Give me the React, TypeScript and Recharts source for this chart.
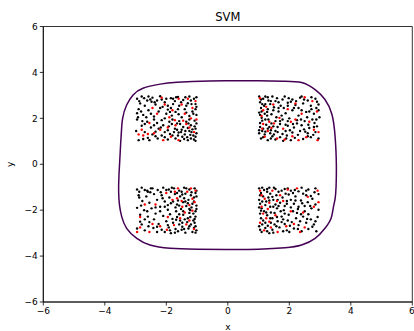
import React from 'react';
import { ScatterChart, Scatter, XAxis, YAxis, ReferenceArea, Label } from 'recharts';

const xTicks = [-6, -4, -2, 0, 2, 4, 6];
const yTicks = [-6, -4, -2, 0, 2, 4, 6];
const title = 'SVM';
const xLabel = 'x';
const yLabel = 'y';

// decision boundary (traced)
const contour: [number, number][] = [
  [0, 3.64], [1, 3.64], [1.8, 3.62], [2.4, 3.56], [2.84, 3.25], [3.16, 2.82], [3.38, 2.2], [3.47, 1.5],
  [3.5, 1.0], [3.52, 0.5], [3.53, 0], [3.53, -0.5], [3.52, -1.0], [3.49, -1.5], [3.43, -1.9], [3.36, -2.35],
  [3.16, -2.79], [2.84, -3.23], [2.4, -3.52], [1.86, -3.64], [1.0, -3.7], [0, -3.71], [-1.0, -3.7],
  [-1.88, -3.66], [-2.53, -3.52], [-2.96, -3.23], [-3.29, -2.79], [-3.45, -2.28], [-3.52, -1.8],
  [-3.55, -1.2], [-3.54, -0.5], [-3.52, 0], [-3.5, 0.5], [-3.48, 1.0], [-3.46, 1.42], [-3.42, 2.0],
  [-3.29, 2.58], [-3.08, 3.02], [-2.76, 3.31], [-2.2, 3.49], [-1.65, 3.57], [-0.6, 3.63], [0, 3.64],
];

const tlBlack: [number, number][] = [
  [-2.95,2.85],[-2.80,2.95],[-2.62,2.78],[-2.45,2.90],[-2.20,2.96],[-2.05,2.70],[-1.85,2.88],[-1.62,2.93],[-1.45,2.80],[-1.25,2.95],
  [-1.10,2.85],[-1.05,2.62],[-1.30,2.66],[-1.58,2.55],[-1.78,2.62],[-2.12,2.50],[-2.35,2.60],[-2.70,2.55],[-2.90,2.40],[-2.58,2.35],
  [-2.25,2.30],[-1.95,2.38],[-1.70,2.28],[-1.40,2.40],[-1.15,2.30],[-1.02,2.15],[-1.25,2.10],[-1.50,2.05],[-1.82,2.12],[-2.05,2.00],
  [-2.40,2.08],[-2.75,2.15],[-2.95,1.95],[-2.62,1.85],[-2.30,1.80],[-2.10,1.70],[-1.90,1.85],[-1.65,1.78],[-1.35,1.85],[-1.08,1.90],
  [-1.20,1.70],[-1.45,1.62],[-1.72,1.55],[-1.95,1.48],[-2.25,1.55],[-2.50,1.60],[-2.80,1.68],[-2.98,1.45],[-2.70,1.40],[-2.45,1.30],
  [-2.15,1.25],[-1.88,1.32],[-1.60,1.38],[-1.38,1.45],[-1.15,1.52],[-1.02,1.35],[-1.22,1.28],[-1.48,1.20],[-1.70,1.12],[-1.95,1.08],
  [-2.28,1.12],[-2.60,1.15],[-2.90,1.05],[-1.10,1.08],[-1.30,1.05],[-1.55,1.02],[-1.05,1.20],[-1.18,1.40],[-1.40,1.30],[-1.62,1.25],
  [-1.08,1.65],[-1.30,1.58],[-1.55,1.75],[-1.80,1.95],[-2.00,2.20],[-2.20,2.45],[-2.48,2.72],[-2.85,2.65],[-2.65,2.05],[-2.40,1.95],
  [-2.15,1.92],[-1.92,1.65],[-1.75,1.40],[-2.05,1.40],[-2.35,1.42],[-2.55,1.05],[-2.00,2.85],[-1.72,2.75],[-1.35,2.55],[-1.20,2.78],
  [-1.05,2.40],[-1.60,2.18],[-1.85,2.45],[-2.58,2.95],[-2.95,2.22],[-2.78,1.88],[-1.50,1.50],[-1.25,1.95],[-1.02,1.78],[-1.68,2.92],[-2.30,2.78],
  [-2.88,2.75],[-2.72,2.88],[-2.52,2.82],[-2.38,2.70],[-2.15,2.82],[-1.95,2.55],[-1.78,2.85],[-1.52,2.70],[-1.38,2.92],[-1.18,2.62],
  [-1.02,2.92],[-1.12,2.20],[-1.35,2.25],[-1.62,2.40],[-1.88,2.28],[-2.50,2.20],[-2.82,2.30],[-2.92,2.05],[-2.70,1.75],[-2.40,1.70],
  [-2.18,1.60],[-1.82,1.75],[-1.58,1.88],[-1.28,1.78],[-1.05,1.55],[-1.12,1.25],[-1.32,1.18],[-1.52,1.40],[-1.80,1.25],[-2.05,1.18],
  [-2.35,1.22],[-2.75,1.10],[-1.20,1.12],[-1.42,1.10],[-1.05,1.02],[-1.25,1.45],[-1.65,1.50],[-1.02,2.50],
];
const tlRed: [number, number][] = [
  [-2.90,1.30],[-2.75,1.25],[-2.60,1.32],[-2.40,1.35],[-2.20,1.50],[-1.95,1.60],[-1.70,1.70],[-1.45,1.90],[-1.20,2.00],[-1.15,2.45],
  [-1.50,2.60],[-1.80,2.35],[-2.05,2.60],[-2.45,2.45],[-1.30,2.85],[-1.60,2.85],[-1.05,2.75],[-1.35,1.75],[-1.60,1.05],[-1.85,1.20],
  [-2.10,1.05],[-2.55,1.80],[-1.10,1.40],[-1.90,2.05],[-2.30,2.20],
  [-2.80,1.50],[-1.40,2.20],[-1.25,1.60],[-2.15,2.90],[-1.72,1.92],[-1.02,1.95],
];
const trBlack: [number, number][] = [
  [1.02,2.95],[1.15,2.85],[1.30,2.92],[1.05,2.70],[1.22,2.62],[1.40,2.75],[1.60,2.88],[1.85,2.95],[2.10,2.82],[2.35,2.90],
  [2.60,2.78],[2.85,2.85],[2.95,2.60],[2.70,2.55],[2.45,2.65],[2.20,2.58],[1.95,2.68],[1.72,2.55],[1.50,2.48],[1.30,2.40],
  [1.08,2.45],[1.02,2.25],[1.20,2.20],[1.42,2.18],[1.65,2.30],[1.88,2.22],[2.10,2.35],[2.30,2.12],[2.55,2.28],[2.80,2.20],
  [2.98,2.05],[2.75,1.95],[2.50,1.88],[2.25,1.92],[2.00,2.00],[1.78,1.95],[1.55,1.88],[1.32,1.95],[1.10,2.02],[1.05,1.80],
  [1.25,1.72],[1.48,1.65],[1.70,1.75],[1.95,1.68],[2.15,1.60],[2.40,1.70],[2.65,1.58],[2.90,1.65],[2.85,1.40],[2.60,1.35],
  [2.35,1.45],[2.10,1.38],[1.88,1.45],[1.62,1.40],[1.40,1.48],[1.15,1.55],[1.02,1.35],[1.20,1.30],[1.45,1.22],[1.70,1.18],
  [1.92,1.25],[2.18,1.15],[2.45,1.10],[2.70,1.18],[2.95,1.12],[1.08,1.12],[1.30,1.05],[1.55,1.08],[1.80,1.02],[2.05,1.05],
  [1.12,1.90],[1.35,1.62],[1.58,2.05],[1.82,2.45],[2.05,2.72],[2.30,2.45],[2.58,2.05],[2.82,1.80],[1.18,2.55],[1.45,2.95],
  [1.28,2.12],[1.05,1.62],[1.38,1.35],[1.62,1.62],[2.25,1.78],[2.48,1.52],[2.72,2.40],[2.95,2.35],[1.75,2.12],[1.95,1.88],
  [1.22,1.42],[1.50,1.30],[1.10,2.30],[1.65,2.70],[2.40,2.95],[2.60,1.22],[2.88,1.95],[1.90,1.12],[1.32,2.78],
  [1.08,2.82],[1.22,2.95],[1.38,2.62],[1.55,2.75],[1.78,2.82],[1.98,2.88],[2.22,2.75],[2.48,2.82],[2.72,2.92],[2.90,2.72],
  [1.12,2.62],[1.28,2.28],[1.48,2.35],[1.65,2.45],[1.95,2.55],[2.15,2.45],[2.40,2.35],[2.65,2.30],[2.88,2.45],[1.05,2.15],
  [1.22,1.95],[1.42,1.78],[1.70,1.88],[1.88,1.72],[2.12,1.75],[2.38,1.95],[2.62,1.72],[2.80,1.62],[1.12,1.45],[1.30,1.55],
  [1.55,1.45],[1.78,1.32],[2.02,1.48],[2.28,1.28],[2.52,1.42],[2.78,1.28],[1.15,1.18],[1.40,1.12],[1.02,1.48],
];
const trRed: [number, number][] = [
  [1.05,2.88],[1.25,2.50],[1.10,2.10],[1.35,1.85],[1.15,1.75],[1.42,1.58],[1.20,1.20],[1.60,1.12],[1.85,1.08],[2.10,1.22],
  [2.30,1.05],[2.55,1.18],[2.92,1.05],[2.80,1.50],[2.65,1.85],[2.90,2.30],[2.75,2.75],[2.50,2.92],[2.20,2.65],[1.95,2.40],
  [1.68,2.02],[1.50,1.78],[1.80,1.55],[2.05,1.85],[2.40,2.20],
  [1.12,1.55],[1.30,1.45],[1.48,2.60],[2.20,1.95],[1.15,2.35],[2.95,1.40],
];
const blBlack: [number, number][] = [
  [-2.95,-1.10],[-2.80,-1.02],[-2.62,-1.15],[-2.45,-1.05],[-2.28,-1.12],[-2.10,-1.02],[-1.92,-1.10],[-1.75,-1.05],[-1.58,-1.15],[-1.42,-1.02],
  [-1.25,-1.10],[-1.08,-1.05],[-1.05,-1.25],[-1.20,-1.35],[-1.38,-1.28],[-1.55,-1.40],[-1.72,-1.30],[-1.90,-1.45],[-2.15,-1.35],[-2.40,-1.30],
  [-2.65,-1.40],[-2.90,-1.35],[-2.78,-1.60],[-2.55,-1.68],[-2.30,-1.55],[-2.05,-1.62],[-1.85,-1.70],[-1.62,-1.58],[-1.45,-1.65],[-1.28,-1.55],
  [-1.10,-1.62],[-1.02,-1.80],[-1.18,-1.88],[-1.35,-1.82],[-1.52,-1.95],[-1.70,-1.88],[-1.95,-1.98],[-2.20,-1.85],[-2.48,-1.92],[-2.72,-2.00],
  [-2.95,-1.90],[-2.85,-2.20],[-2.60,-2.28],[-2.35,-2.15],[-2.10,-2.25],[-1.88,-2.18],[-1.65,-2.30],[-1.45,-2.20],[-1.25,-2.12],[-1.05,-2.28],
  [-1.12,-2.45],[-1.32,-2.52],[-1.55,-2.45],[-1.78,-2.55],[-2.00,-2.48],[-2.25,-2.60],[-2.55,-2.52],[-2.80,-2.62],[-2.95,-2.80],[-2.70,-2.88],
  [-2.42,-2.78],[-2.15,-2.85],[-1.92,-2.75],[-1.70,-2.82],[-1.48,-2.72],[-1.28,-2.80],[-1.05,-2.70],[-1.15,-2.95],[-1.38,-2.98],[-1.62,-2.92],
  [-1.85,-3.00],[-2.30,-2.95],[-1.10,-1.45],[-1.30,-1.70],[-1.50,-1.20],[-1.68,-2.05],[-1.22,-2.30],[-1.40,-2.40],[-1.05,-2.05],[-1.58,-2.62],
  [-1.20,-2.62],[-1.02,-2.88],[-1.35,-1.05],[-1.65,-1.75],[-1.85,-1.20],[-2.05,-1.85],[-2.60,-1.20],[-2.88,-1.45],[-2.40,-2.40],[-2.70,-2.40],
  [-1.80,-2.38],[-1.95,-2.65],[-2.20,-2.05],[-1.50,-2.85],[-1.12,-2.15],[-1.42,-1.48],[-2.50,-1.05],[-1.25,-1.95],[-1.08,-2.55],
  [-2.88,-1.20],[-2.70,-1.12],[-2.52,-1.22],[-2.18,-1.22],[-2.00,-1.12],[-1.82,-1.02],[-1.65,-1.25],[-1.48,-1.32],[-1.18,-1.22],[-1.02,-1.40],
  [-1.15,-1.72],[-1.38,-1.62],[-1.58,-1.80],[-1.78,-1.62],[-1.02,-1.95],[-1.22,-2.00],[-1.45,-2.05],[-1.58,-2.18],[-1.30,-2.35],[-1.08,-2.38],
  [-1.48,-2.55],[-1.68,-2.42],[-1.25,-2.70],[-1.42,-2.82],[-1.10,-2.78],[-1.72,-2.98],[-1.88,-2.88],[-2.05,-2.95],[-2.30,-2.72],[-2.58,-2.70],
  [-2.85,-2.50],[-2.62,-2.05],[-2.35,-1.88],[-2.82,-1.80],[-2.12,-1.48],[-1.95,-1.78],[-1.05,-2.98],[-1.02,-1.15],
];
const blRed: [number, number][] = [
  [-2.95,-2.95],[-2.85,-2.75],[-2.55,-2.95],[-2.20,-2.70],[-1.98,-2.85],[-1.75,-2.65],[-1.55,-2.35],[-1.40,-2.10],[-1.25,-1.78],[-1.15,-1.50],
  [-1.05,-1.15],[-1.32,-1.20],[-1.62,-1.05],[-1.80,-1.55],[-1.95,-2.30],[-2.35,-1.75],[-2.70,-1.75],[-1.15,-2.02],[-1.35,-2.62],[-1.10,-2.82],
  [-1.65,-1.48],[-1.48,-1.85],[-2.45,-2.60],[-2.00,-1.25],
  [-1.08,-1.65],[-1.25,-2.45],[-1.72,-1.20],[-2.85,-2.30],[-1.50,-1.60],[-1.20,-1.05],
];
const brBlack: [number, number][] = [
  [1.02,-1.05],[1.18,-1.12],[1.35,-1.02],[1.55,-1.08],[1.75,-1.15],[1.95,-1.05],[2.18,-1.12],[2.40,-1.02],[2.62,-1.10],[2.85,-1.05],
  [2.95,-1.30],[2.70,-1.38],[2.45,-1.28],[2.20,-1.40],[1.98,-1.32],[1.78,-1.45],[1.58,-1.35],[1.38,-1.28],[1.15,-1.40],[1.02,-1.55],
  [1.25,-1.62],[1.48,-1.55],[1.70,-1.68],[1.92,-1.60],[2.15,-1.72],[2.38,-1.58],[2.60,-1.65],[2.85,-1.75],[2.95,-1.98],[2.72,-1.92],
  [2.50,-2.05],[2.28,-1.95],[2.05,-1.88],[1.82,-2.00],[1.60,-1.92],[1.38,-1.85],[1.10,-1.92],[1.05,-2.15],[1.28,-2.22],[1.52,-2.12],
  [1.75,-2.28],[1.98,-2.20],[2.22,-2.35],[2.45,-2.28],[2.70,-2.40],[2.92,-2.30],[2.80,-2.62],[2.55,-2.55],[2.30,-2.65],[2.08,-2.52],
  [1.85,-2.60],[1.62,-2.48],[1.40,-2.55],[1.15,-2.45],[1.02,-2.70],[1.22,-2.78],[1.45,-2.85],[1.68,-2.75],[1.92,-2.88],[2.15,-2.80],
  [2.40,-2.92],[2.62,-2.82],[2.88,-2.92],[1.10,-2.95],[1.35,-3.00],[1.08,-1.25],[1.22,-1.78],[1.32,-1.45],[1.05,-1.72],[1.18,-2.05],
  [1.45,-2.35],[1.30,-2.68],[1.55,-1.75],[1.65,-1.20],[1.88,-1.28],[2.05,-1.55],[1.72,-2.05],[1.95,-2.45],[2.25,-2.12],[2.50,-1.82],
  [2.75,-1.50],[2.35,-2.48],[2.62,-2.18],[1.12,-2.62],[1.40,-2.10],[1.58,-2.70],[1.85,-1.82],[2.12,-1.25],[1.02,-1.88],[1.28,-1.20],
  [2.00,-2.95],[1.50,-1.02],[2.30,-1.85],[2.55,-1.15],[1.80,-2.40],
  [1.05,-1.35],[1.12,-1.02],[1.28,-1.08],[1.45,-1.42],[1.62,-1.55],[1.85,-1.08],[2.05,-1.15],[2.30,-1.18],[2.55,-1.35],[2.82,-1.22],
  [1.12,-1.62],[1.35,-1.58],[1.48,-1.85],[1.65,-1.82],[1.92,-1.72],[2.20,-1.58],[2.42,-1.70],[2.68,-1.82],[1.08,-2.02],[1.25,-2.10],
  [1.38,-2.35],[1.60,-2.30],[1.85,-2.15],[2.12,-2.05],[2.38,-2.18],[2.58,-2.38],[2.85,-2.48],[1.08,-2.35],[1.22,-2.55],[1.52,-2.62],
  [1.75,-2.52],[2.02,-2.68],[2.28,-2.82],[2.75,-2.72],[1.05,-2.85],[1.28,-2.92],[1.48,-2.98],[1.80,-2.92],
];
const brRed: [number, number][] = [
  [1.05,-1.15],[1.20,-1.50],[1.10,-1.85],[1.35,-1.68],[1.25,-2.35],[1.05,-2.55],[1.18,-2.88],[1.40,-2.75],[1.62,-2.95],[1.55,-2.22],
  [1.80,-1.60],[1.95,-1.10],[2.25,-1.05],[2.60,-1.42],[2.92,-1.15],[2.80,-1.85],[2.45,-2.10],[2.15,-2.60],[1.90,-2.70],[2.50,-2.75],
  [1.70,-1.35],[1.45,-1.15],[1.30,-1.95],[2.05,-2.05],
  [1.10,-1.35],[1.15,-2.15],[1.35,-2.50],[2.95,-1.65],[2.35,-2.95],[1.60,-1.60],
];

const toPts = (arr: [number, number][]) => arr.map(([x, y]) => ({ x, y }));
const blackPts = toPts([...tlBlack, ...trBlack, ...blBlack, ...brBlack]);
const redPts = toPts([...tlRed, ...trRed, ...blRed, ...brRed]);
const contourPts = toPts(contour);

const FONT = 'DejaVu Sans, sans-serif';
const fmt = (v: number) => String(v).replace('-', '\u2212');

const dot = (color: string) => (p: any) => <circle cx={p.cx} cy={p.cy} r={1.2} fill={color} />;

export default function App() {
  return (
    <div style={{ position: 'absolute', left: 0, top: 0, width: 414, height: 331, background: '#fff' }}>
      <ScatterChart width={414} height={331} margin={{ top: 26.5, right: 1.7, bottom: 0, left: 0 }}>
        <XAxis
          type="number"
          dataKey="x"
          domain={[-6, 6]}
          ticks={xTicks}
          allowDataOverflow
          height={29}
          tickSize={3.5}
          tickMargin={2}
          tickFormatter={fmt}
          stroke="#000"
          tick={{ fontSize: 9, fill: '#000', fontFamily: FONT }}
          axisLine={{ stroke: '#000', strokeWidth: 0.8 }}
          tickLine={{ stroke: '#000', strokeWidth: 0.8 }}
        >
          <Label
            content={() => (
              <text x={227.8} y={329.5} textAnchor="middle" fontSize={9} fontFamily={FONT} fill="#000">{xLabel}</text>
            )}
          />
        </XAxis>
        <YAxis
          type="number"
          dataKey="y"
          domain={[-6, 6]}
          ticks={yTicks}
          allowDataOverflow
          width={43.3}
          tickSize={3.5}
          tickMargin={2}
          tickFormatter={fmt}
          stroke="#000"
          tick={{ fontSize: 9, fill: '#000', fontFamily: FONT }}
          axisLine={{ stroke: '#000', strokeWidth: 0.8 }}
          tickLine={{ stroke: '#000', strokeWidth: 0.8 }}
        >
          <Label
            content={() => (
              <text x={13} y={164.3} transform="rotate(-90 13 164.3)" textAnchor="middle" fontSize={9} fontFamily={FONT} fill="#000">{yLabel}</text>
            )}
          />
        </YAxis>
        <ReferenceArea
          x1={-6}
          x2={6}
          y1={-6}
          y2={6}
          fill="none"
          stroke="#000"
          strokeWidth={0.8}
          label={{ value: title, position: 'top', offset: 6, fontSize: 11.5, fill: '#000', fontFamily: FONT }}
        />
        <Scatter data={blackPts} isAnimationActive={false} shape={dot('#000')} />
        <Scatter data={redPts} isAnimationActive={false} shape={dot('#ff0000')} />
        <Scatter
          data={contourPts}
          isAnimationActive={false}
          line={{ stroke: '#440154', strokeWidth: 1.5 }}
          lineJointType="natural"
          shape={() => <g />}
        />
      </ScatterChart>
    </div>
  );
}
